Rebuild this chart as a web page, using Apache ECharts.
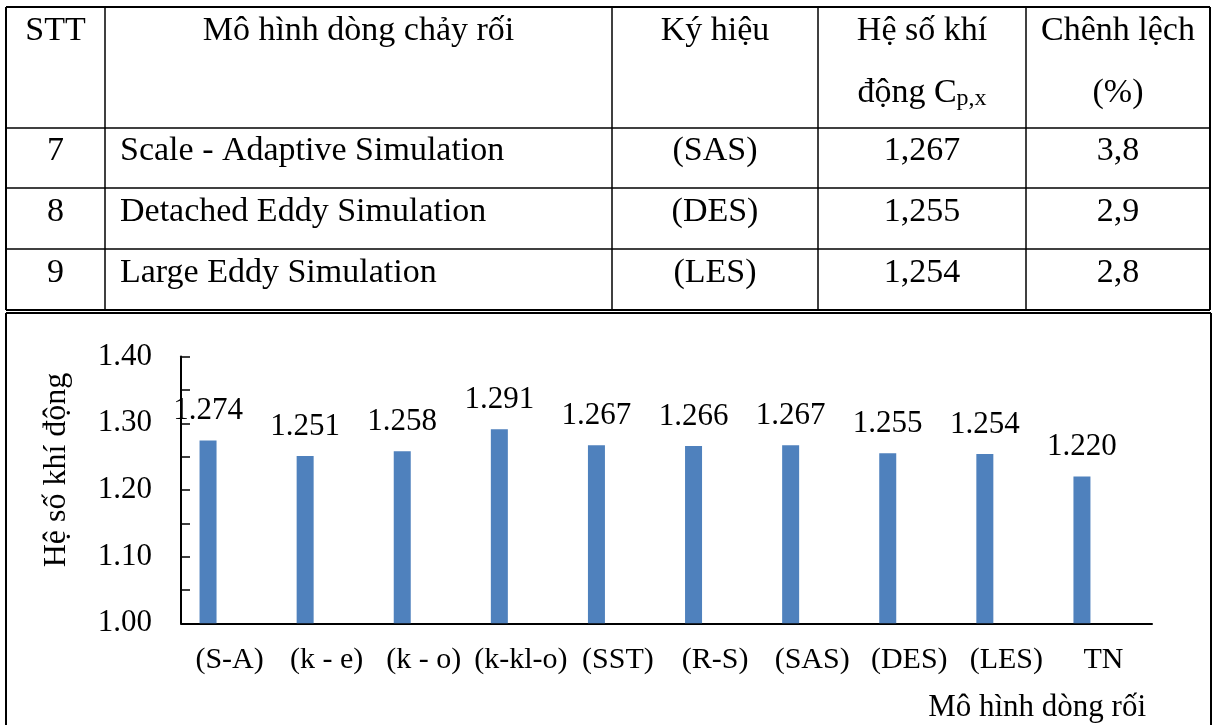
<!DOCTYPE html>
<html>
<head>
<meta charset="utf-8">
<script src="https://cdn.jsdelivr.net/npm/echarts@6/dist/echarts.min.js"></script>
<style>
  html, body { margin: 0; padding: 0; background: #ffffff; }
  #main { width: 1216px; height: 725px; }
</style>
</head>
<body>
<div id="main"></div>
<script>
// ---- Table data ----
const tableHeader1 = ['STT', 'Mô hình dòng chảy rối', 'Ký hiệu', 'Hệ số khí', 'Chênh lệch'];
const tableHeader2Cp = ['động C', 'p,x'];
const tableHeader2Diff = '(%)';
const tableStt = ['7', '8', '9'];
const tableModels = ['Scale - Adaptive Simulation', 'Detached Eddy Simulation', 'Large Eddy Simulation'];
const tableSymbols = ['(SAS)', '(DES)', '(LES)'];
const tableCp = ['1,267', '1,255', '1,254'];
const tableDiff = ['3,8', '2,9', '2,8'];

// ---- Chart data ----
const categories = ['(S-A)', '(k - e)', '(k - o)', '(k-kl-o)', '(SST)', '(R-S)', '(SAS)', '(DES)', '(LES)', 'TN'];
const cpValues = [1.274, 1.251, 1.258, 1.291, 1.267, 1.266, 1.267, 1.255, 1.254, 1.220];
const yTitle = 'Hệ số khí động';
const xTitle = 'Mô hình dòng rối';

const FONT = '"Liberation Serif", "Times New Roman", serif';
const TFS = 34;   // table font size
const CFS = 31;   // chart font size

// table geometry
const colX = [6, 105, 612, 818, 1026, 1210];
const rowY = [7, 128, 188, 249, 310];
const colCenter = i => (colX[i] + colX[i + 1]) / 2;
// convert a text baseline to the "middle" anchor used by zrender
const mid = (baseline, fs) => baseline - 0.26 * fs;

function txt(x, baseline, s, align, fs) {
  return {
    type: 'text', x: x, y: mid(baseline, fs || TFS),
    style: { text: s, font: (fs || TFS) + 'px ' + FONT, fill: '#000', align: align || 'center', verticalAlign: 'middle' }
  };
}
function line(x1, y1, x2, y2, w) {
  return { type: 'line', shape: { x1, y1, x2, y2 }, style: { stroke: '#000', lineWidth: w || 1.5 } };
}

const graphics = [];
// table grid
rowY.forEach((y, i) => graphics.push(line(colX[0], y, colX[5], y, (i === 0 || i === rowY.length - 1) ? 2 : 1.5)));
colX.forEach((x, i) => graphics.push(line(x, rowY[0], x, rowY[rowY.length - 1], (i === 0 || i === colX.length - 1) ? 2 : 1.5)));
// chart frame
graphics.push(line(6, 313, 1211, 313, 2));
graphics.push(line(6, 313, 6, 725, 2));
graphics.push(line(1211, 313, 1211, 725, 2));

// header
tableHeader1.forEach((s, i) => graphics.push(txt(colCenter(i), 40, s)));
// "động C" with subscript "p,x"
const ctx = document.createElement('canvas').getContext('2d');
ctx.font = TFS + 'px ' + FONT;
const w1 = ctx.measureText(tableHeader2Cp[0]).width;
ctx.font = '24px ' + FONT;
const w2 = ctx.measureText(tableHeader2Cp[1]).width;
const cpStart = colCenter(3) - (w1 + w2) / 2;
graphics.push(txt(cpStart, 102, tableHeader2Cp[0], 'left'));
graphics.push(txt(cpStart + w1, 105, tableHeader2Cp[1], 'left', 24));
graphics.push(txt(colCenter(4), 102, tableHeader2Diff));

// body rows
const baselines = [160, 221, 282];
tableStt.forEach((s, r) => {
  graphics.push(txt(colCenter(0), baselines[r], s));
  graphics.push(txt(120, baselines[r], tableModels[r], 'left'));
  graphics.push(txt(colCenter(2), baselines[r], tableSymbols[r]));
  graphics.push(txt(colCenter(3), baselines[r], tableCp[r]));
  graphics.push(txt(colCenter(4), baselines[r], tableDiff[r]));
});

// axis titles
graphics.push({
  type: 'text', x: 57, y: 470, rotation: Math.PI / 2,
  style: { text: yTitle, font: '32px ' + FONT, fill: '#000', align: 'center', verticalAlign: 'middle' }
});
graphics.push(txt(1146, 716, xTitle, 'right', 31));

const chart = echarts.init(document.getElementById('main'), null, { renderer: 'canvas' });
chart.setOption({
  backgroundColor: '#ffffff',
  animation: false,
  textStyle: { fontFamily: FONT },
  grid: { left: 181, right: 64, top: 356.6, bottom: 101.7, containLabel: false },
  xAxis: {
    type: 'category',
    data: categories,
    axisLine: { lineStyle: { color: '#000', width: 2 } },
    axisTick: { show: false },
    axisLabel: { color: '#000', fontSize: 30, fontFamily: FONT, margin: 22, interval: 0 },
    splitLine: { show: false }
  },
  yAxis: {
    type: 'value',
    min: 1.0, max: 1.4, interval: 0.1,
    axisLine: { show: true, lineStyle: { color: '#000', width: 2 } },
    axisTick: { show: true, inside: true, length: 9, lineStyle: { color: '#000', width: 1.5 } },
    minorTick: { show: true, splitNumber: 2, length: 9, lineStyle: { color: '#000', width: 1.5 } },
    axisLabel: { color: '#000', fontSize: CFS, fontFamily: FONT, margin: 29, formatter: v => v.toFixed(2) },
    splitLine: { show: false }
  },
  series: [
    {
      type: 'bar',
      name: yTitle,
      data: cpValues,
      barWidth: 17,
      barGap: '153%',
      itemStyle: { color: '#4F81BD' },
      label: {
        show: true, position: 'top', distance: 14,
        color: '#000', fontSize: CFS, fontFamily: FONT,
        formatter: p => p.value.toFixed(3)
      }
    },
    {
      // empty companion series sharing each category slot
      type: 'bar',
      name: '',
      data: categories.map(() => null),
      barWidth: 17,
      barGap: '153%'
    }
  ],
  graphic: graphics
});
</script>
</body>
</html>
